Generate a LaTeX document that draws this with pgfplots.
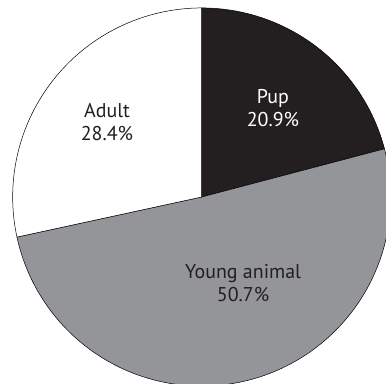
\documentclass[border=0pt]{standalone}
\usepackage{pgfplots}
\pgfplotsset{compat=1.18}
\usepackage{fontspec}
\setmainfont{PT Sans}
\definecolor{pupc}{HTML}{231F20}
\definecolor{youngc}{HTML}{939598}
\definecolor{txt}{HTML}{231F20}
% shares (percent)
\def\vPup{20.9}
\def\vYoung{50.7}
\def\vAdult{28.4}
\pgfmathsetmacro{\aA}{90}
\pgfmathsetmacro{\aB}{90-3.6*\vPup}
\pgfmathsetmacro{\aC}{\aB-3.6*\vYoung}
\pgfmathsetmacro{\aD}{\aC-3.6*\vAdult}
\begin{document}
\begin{tikzpicture}
\begin{axis}[
  width=386bp, height=384bp, scale only axis,
  hide axis,
  xmin=-1.067, xmax=0.975, ymin=-0.989, ymax=1.042,
  clip=true,
]
\addplot[fill=pupc, draw=black, line width=0.5pt, domain=\aA:\aB, samples=80, variable=\t]
  ({cos(\t)},{sin(\t)}) -- (axis cs:0,0) -- cycle;
\addplot[fill=youngc, draw=black, line width=0.5pt, domain=\aB:\aC, samples=160, variable=\t]
  ({cos(\t)},{sin(\t)}) -- (axis cs:0,0) -- cycle;
\addplot[fill=white, draw=black, line width=0.5pt, domain=\aC:\aD, samples=100, variable=\t]
  ({cos(\t)},{sin(\t)}) -- (axis cs:0,0) -- cycle;
\node[align=center, text=white, font=\fontsize{20}{23}\selectfont] at (axis cs:0.377,0.471) {Pup\\20.9\%};
\node[align=center, text=txt, font=\fontsize{20}{23}\selectfont] at (axis cs:-0.501,0.397) {Adult\\28.4\%};
\node[align=center, text=txt, font=\fontsize{20}{23}\selectfont] at (axis cs:0.219,-0.455) {Young animal\\50.7\%};
\end{axis}
\pgfresetboundingbox
\useasboundingbox (current axis.south west) rectangle (current axis.north east);
\end{tikzpicture}
\end{document}
